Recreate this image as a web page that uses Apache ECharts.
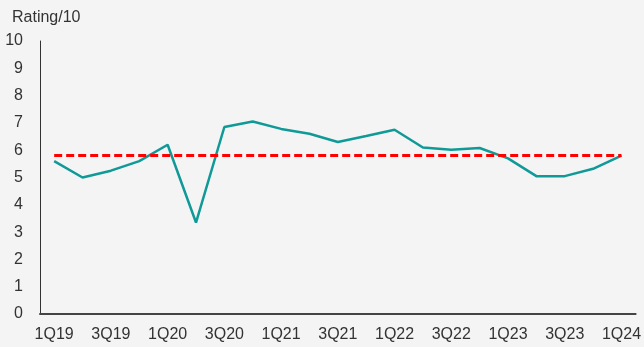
<!DOCTYPE html>
<html>
<head>
<meta charset="utf-8">
<script src="https://cdn.jsdelivr.net/npm/echarts@6/dist/echarts.min.js"></script>
<style>
  html, body { margin: 0; padding: 0; background: #f4f4f4; }
  #chart { width: 644px; height: 347px; }
</style>
</head>
<body>
<div id="chart"></div>
<script>
// Quarterly labels
const quarters = ['1Q19','2Q19','3Q19','4Q19','1Q20','2Q20','3Q20','4Q20','1Q21','2Q21','3Q21',
                  '4Q21','1Q22','2Q22','3Q22','4Q22','1Q23','2Q23','3Q23','4Q23','1Q24'];
// Rating out of 10 per quarter
const ratings = [5.6, 5.0, 5.25, 5.6, 6.2, 3.35, 6.85, 7.05, 6.78, 6.6, 6.3,
                 6.52, 6.75, 6.1, 6.02, 6.08, 5.7, 5.05, 5.05, 5.32, 5.8];
// Long-run average rating
const averageRating = 5.8;
const yTicks = { min: 0, max: 10, interval: 1 };

const font = '"Liberation Sans", Arial, sans-serif';
const chart = echarts.init(document.getElementById('chart'));
chart.setOption({
  backgroundColor: '#f4f4f4',
  animation: false,
  title: {
    text: 'Rating/10', left: 7, top: 5,
    textStyle: { fontFamily: font, fontSize: 16, fontWeight: 'normal', color: '#333' }
  },
  grid: { left: 40, right: 7, top: 41, bottom: 33 },
  xAxis: {
    type: 'category',
    data: quarters,
    boundaryGap: true,
    axisLine: { lineStyle: { color: '#444', width: 2 } },
    axisTick: { show: false },
    axisLabel: { interval: 1, margin: 13, fontFamily: font, fontSize: 16, color: '#333' }
  },
  yAxis: {
    type: 'value',
    min: yTicks.min, max: yTicks.max, interval: yTicks.interval,
    axisLine: { show: true, lineStyle: { color: '#333', width: 1 } },
    axisTick: { show: false },
    splitLine: { show: false },
    axisLabel: { margin: 17, fontFamily: font, fontSize: 16, color: '#333' }
  },
  series: [{
    type: 'line',
    data: ratings,
    symbol: 'none',
    lineStyle: { color: '#0f9a98', width: 2.5 },
    z: 3,
    markLine: {
      silent: true,
      symbol: 'none',
      label: { show: false },
      lineStyle: { color: '#ff0000', width: 3, type: [8, 4] },
      data: [[
        { coord: [quarters[0], averageRating] },
        { coord: [quarters[quarters.length - 1], averageRating] }
      ]]
    }
  }]
});
</script>
</body>
</html>
